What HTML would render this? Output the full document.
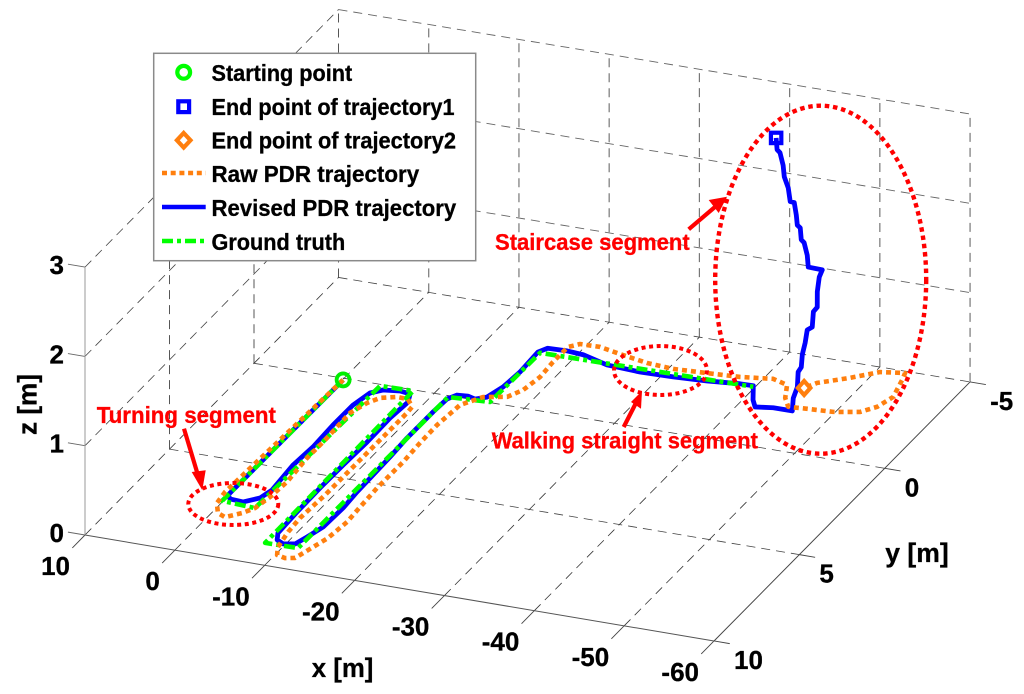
<!DOCTYPE html>
<html lang="en">
<head>
<meta charset="utf-8">
<title>PDR trajectory 3D chart</title>
<style>
html,body{margin:0;padding:0;background:#fff;}
svg{display:block;filter:blur(0.35px);}
text{font-family:"Liberation Sans",Arial,sans-serif;font-weight:bold;fill:#000;stroke:#000;stroke-width:0.3px;}
.tick{font-size:26px;}
.title{font-size:27px;}
.leg{font-size:23px;}
.note{font-size:23px;fill:#f00;stroke:#f00;}
</style>
</head>
<body>
<svg id="chart" xmlns="http://www.w3.org/2000/svg" width="1024" height="694" viewBox="0 0 1024 694">
  <rect x="0" y="0" width="1024" height="694" fill="#fff"/>
  <g id="grid"></g>
  <g id="axes"></g>
  <g id="ticklabels"></g>
  <g id="series"></g>

  <text class="title" x="311.7" y="677" textLength="61.7" lengthAdjust="spacingAndGlyphs">x [m]</text>
  <text class="title" x="885.3" y="562" textLength="63.4" lengthAdjust="spacingAndGlyphs">y [m]</text>
  <text class="title" transform="translate(36.5,435) rotate(-90)" x="0" y="0" textLength="61" lengthAdjust="spacingAndGlyphs">z [m]</text>

  <g fill="none" stroke="#f00">
    <ellipse cx="820.7" cy="279.7" rx="105.5" ry="174" stroke-width="4.4" stroke-dasharray="4.5 3.8"/>
    <ellipse cx="660.5" cy="370.5" rx="46.5" ry="24.5" stroke-width="4" stroke-dasharray="4 3.6"/>
    <ellipse cx="233.3" cy="504" rx="45" ry="21" stroke-width="4" stroke-dasharray="4 3.6"/>
    <line x1="688.7" y1="229.3" x2="722" y2="201" stroke-width="4.2"/>
    <polygon points="727,196.7 708.7,200 718.7,213" fill="#f00" stroke="none"/>
    <line x1="184" y1="428.7" x2="200" y2="482" stroke-width="4.2"/>
    <polygon points="202.3,490.3 191.7,472 205.7,470.3" fill="#f00" stroke="none"/>
    <line x1="623.7" y1="427" x2="638" y2="399" stroke-width="4.2"/>
    <polygon points="642,391 631,402 641,408.7" fill="#f00" stroke="none"/>
  </g>
  <text class="note" x="495" y="250" textLength="194.7" lengthAdjust="spacingAndGlyphs">Staircase segment</text>
  <text class="note" x="96.7" y="423" textLength="179.3" lengthAdjust="spacingAndGlyphs">Turning segment</text>
  <text class="note" x="491.7" y="448.7" textLength="266.3" lengthAdjust="spacingAndGlyphs">Walking straight segment</text>

  <g>
    <rect x="153.7" y="53.3" width="322" height="207.4" fill="#fff" stroke="#8a8a8a" stroke-width="1.5"/>
    <circle cx="183.7" cy="72.3" r="6.4" fill="none" stroke="#0f0" stroke-width="4.2"/>
    <text class="leg" x="211.5" y="81" textLength="140.7" lengthAdjust="spacingAndGlyphs">Starting point</text>
    <rect x="178.3" y="101.3" width="10.8" height="10.8" fill="none" stroke="#00f" stroke-width="4.2"/>
    <text class="leg" x="211.5" y="114.8" textLength="243" lengthAdjust="spacingAndGlyphs">End point of trajectory1</text>
    <polygon points="183.7,133 190.5,140.3 183.7,147.6 176.9,140.3" fill="none" stroke="#ff7f0e" stroke-width="4.2"/>
    <text class="leg" x="211.5" y="148.7" textLength="244.5" lengthAdjust="spacingAndGlyphs">End point of trajectory2</text>
    <line x1="162" y1="173" x2="205.7" y2="173" stroke="#ff7f0e" stroke-width="4.4" stroke-dasharray="5 3.7"/>
    <text class="leg" x="211.5" y="182" textLength="207.7" lengthAdjust="spacingAndGlyphs">Raw PDR trajectory</text>
    <line x1="162" y1="207" x2="205.7" y2="207" stroke="#00f" stroke-width="4.4"/>
    <text class="leg" x="211.5" y="216" textLength="244.7" lengthAdjust="spacingAndGlyphs">Revised PDR trajectory</text>
    <line x1="162" y1="241" x2="205.7" y2="241" stroke="#0f0" stroke-width="4.4" stroke-dasharray="11 4 4 4"/>
    <text class="leg" x="211.5" y="250" textLength="133.7" lengthAdjust="spacingAndGlyphs">Ground truth</text>
  </g>
</svg>
<script>
const xTicks = [10, 0, -10, -20, -30, -40, -50, -60];
const yTicks = [-5, 0, 5, 10];
const zTicks = [0, 1, 2, 3];

const groundX = [-0.06, 0.12, -3.69, -4.15, -7.76, -7.93, -11.56, -11.67, -16.14, -16.30, -39.80];
const groundY = [0.09, 7.14, 7.23, 0.08, 0.06, 8.88, 8.86, 0.07, -0.03, -2.90, -2.97];
const groundZ = [0, 0, 0, 0, 0, 0, 0, 0, 0, 0, 0];

const revisedX = [-0.06, 0.11, -0.45, -1.98, -3.23, -3.62, -3.28, -3.48, -3.33, -3.36, -3.85, -4.81, -6.52, -7.76, -8.33, -8.11, -8.18, -8.05, -8.01, -8.07, -8.23, -8.80, -9.75, -10.90, -11.38, -11.97, -12.09, -11.91, -11.85, -11.77, -11.61, -11.63, -11.64, -11.76, -12.34, -13.48, -14.43, -15.39, -15.97, -16.18, -16.01, -16.58, -18.69, -20.58, -23.81, -27.62, -31.24, -34.86, -38.28, -39.71, -41.02, -41.87, -43.68, -45.79,
  -45.86, -46.22, -46.29, -46.56, -46.64, -46.90, -47.07, -47.53, -47.62, -47.99, -47.96, -48.12, -48.40, -47.05, -46.94, -46.63, -46.33, -46.22, -45.93, -45.82, -45.61, -45.22, -45.00, -44.60, -44.49, -44.18, -43.88, -43.77];
const revisedY = [0.09, 6.79, 6.98, 7.02, 6.68, 6.19, 4.75, 3.69, 2.43, 1.27, 0.52, 0.26, 0.17, 0.23, 0.66, 1.60, 2.99, 4.33, 5.68, 7.08, 8.28, 8.63, 8.78, 8.68, 8.23, 7.60, 6.48, 5.57, 4.59, 3.55, 2.46, 1.70, 0.94, 0.18, -0.10, -0.14, -0.05, -0.25, -0.89, -1.77, -2.92, -3.19, -3.22, -3.16, -2.85, -2.77, -2.80, -2.88, -3.01, -3.02, -2.31, -1.98, -2.09, -2.09,
  -2.11, -2.16, -2.17, -2.21, -2.23, -2.26, -2.29, -2.34, -2.36, -2.39, -2.41, -2.44, -2.47, -2.36, -2.36, -2.34, -2.33, -2.33, -2.31, -2.31, -2.30, -2.27, -2.27, -2.25, -2.24, -2.22, -2.21, -2.21];
const revisedZ = [0, 0, 0, 0, 0, 0, 0, 0, 0, 0, 0, 0, 0, 0, 0, 0, 0, 0, 0, 0, 0, 0, 0, 0, 0, 0, 0, 0, 0, 0, 0, 0, 0, 0, 0, 0, 0, 0, 0, 0, 0, 0, 0, 0, 0, 0, 0, 0, 0, 0, 0, 0, 0, 0,
  0.14, 0.26, 0.43, 0.48, 0.62, 0.75, 0.89, 0.92, 1.09, 1.14, 1.31, 1.47, 1.55, 1.58, 1.71, 1.85, 1.88, 2.01, 2.04, 2.15, 2.29, 2.30, 2.45, 2.57, 2.70, 2.84, 2.87, 3.00];

const rawX = [-0.06, 0.68, 0.41, -0.63, -1.67, -2.92, -3.69, -4.09, -4.29, -3.95, -3.98, -3.89, -3.82, -4.51, -5.28, -6.81, -8.04, -9.17, -9.25, -9.24, -9.21, -9.18, -9.15, -8.92, -9.10, -9.55, -10.21, -11.25, -12.21, -12.59, -13.47, -13.78, -13.62, -13.45, -13.47, -13.49, -13.31, -13.25,
  -13.56, -15.01, -17.30, -18.17, -18.56, -18.38, -18.40, -19.27, -21.46, -24.31, -27.44, -30.48, -34.10, -37.62, -40.95, -42.85, -43.89, -45.02, -47.03, -49.78, -52.35, -53.50, -54.09, -53.34, -52.97, -50.49, -48.20, -45.52, -44.76];
const rawY = [0.09, 6.68, 7.30, 7.79, 7.93, 7.59, 7.23, 6.54, 5.66, 4.29, 3.24, 2.49, 1.68, 1.04, 0.68, 0.49, 0.51, 0.86, 1.21, 2.08, 3.19, 4.71, 5.98, 7.35, 8.14, 8.99, 9.38, 9.47, 9.38, 9.00, 8.11, 7.15, 6.29, 5.21, 4.33, 3.69, 2.60, 1.56,
  0.37, -0.22, -0.43, -0.91, -1.70, -2.55, -3.42, -3.67, -3.69, -3.48, -3.28, -3.20, -3.27, -3.35, -3.53, -3.34, -2.68, -2.26, -2.32, -2.38, -2.60, -3.00, -3.62, -4.54, -4.91, -4.75, -4.22, -3.69, -3.33];
const rawZ = [0, 0, 0, 0, 0, 0, 0, 0, 0, 0, 0, 0, 0, 0, 0, 0, 0, 0, 0, 0, 0, 0, 0, 0, 0, 0, 0, 0, 0, 0, 0, 0, 0, 0, 0, 0, 0, 0,
  0, 0, 0, 0, 0, 0, 0, 0, 0, 0, 0, 0, 0, 0, 0, 0, 0, 0, 0, 0, 0, 0, 0, 0, 0, 0, 0, 0, 0];

const xMax = 10;
const xMin = -60;
const yMin = -5;
const yMax = 10;
const zMax = 3;

function project(x, y, z) {
  const u = xMax - x;
  const v = yMax - y;
  return {
    sx: 85 + 8.986 * u + v * (16.9 + 0.00243 * u),
    sy: 535 + 1.514 * u - v * (17.17 + 0.00143 * u) - 89.3 * z
  };
}

const NS = 'http://www.w3.org/2000/svg';
const gridG = document.getElementById('grid');
const axesG = document.getElementById('axes');
const labelsG = document.getElementById('ticklabels');
const seriesG = document.getElementById('series');

function seg(parent, name, a, b, stroke, width, dash) {
  const el = document.createElementNS(NS, 'line');
  
  
  el.setAttribute('x1', a.sx.toFixed(2));
  el.setAttribute('y1', a.sy.toFixed(2));
  el.setAttribute('x2', b.sx.toFixed(2));
  el.setAttribute('y2', b.sy.toFixed(2));
  el.setAttribute('stroke', stroke);
  el.setAttribute('stroke-width', width);
  if (dash) el.setAttribute('stroke-dasharray', dash);
  parent.appendChild(el);
}

function tickText(name, str, x, y, anchor) {
  const el = document.createElementNS(NS, 'text');
  
  
  el.setAttribute('class', 'tick');
  el.setAttribute('x', x.toFixed(1));
  el.setAttribute('y', y.toFixed(1));
  el.setAttribute('text-anchor', anchor);
  el.textContent = str;
  labelsG.appendChild(el);
}

const DASH = '9 6';
xTicks.forEach(function (t) {
  if (t !== xMin) seg(gridG, 'floor-gridline-x' + t, project(t, yMax, 0), project(t, yMin, 0), '#333', 0.8, DASH);
  seg(gridG, 'wall-gridline-x' + t, project(t, yMin, 0), project(t, yMin, zMax), t === xMax ? '#444' : '#777', t === xMax ? 0.9 : 1.2, DASH);
  seg(axesG, 'x-tick-' + t, project(t, yMax, 0), project(t, yMax + 0.75, 0), '#444', 0.9);
  const p = project(t, yMax, 0);
  tickText('x-tick-label-' + t, String(t), p.sx - 15, p.sy + 40, 'end');
});
yTicks.forEach(function (t) {
  if (t !== yMax) seg(gridG, 'floor-gridline-y' + t, project(xMax, t, 0), project(xMin, t, 0), '#444', 0.8, DASH);
  if (t !== yMax && t !== yMin) seg(gridG, 'side-wall-gridline-y' + t, project(xMax, t, 0), project(xMax, t, zMax), '#444', 0.9, DASH);
  seg(axesG, 'y-tick-' + t, project(xMin, t, 0), project(xMin - 1.75, t, 0), '#444', 0.9);
  const p = project(xMin, t, 0);
  tickText('y-tick-label-' + t, String(t), p.sx + 20, p.sy + 28, 'start');
});
zTicks.forEach(function (t) {
  if (t !== 0) {
    seg(gridG, 'back-wall-gridline-z' + t, project(xMax, yMin, t), project(xMin, yMin, t), '#666', 0.9, DASH);
    seg(gridG, 'side-wall-gridline-z' + t, project(xMax, yMax, t), project(xMax, yMin, t), '#444', 0.8, DASH);
  }
  seg(axesG, 'z-tick-' + t, project(xMax, yMax, t), project(xMax + 1.9, yMax, t), '#666', 0.9);
  const p = project(xMax, yMax, t);
  tickText('z-tick-label-' + t, String(t), p.sx - 21, p.sy + 7, 'end');
});
seg(axesG, 'x-axis-line', project(xMax, yMax, 0), project(xMin, yMax, 0), '#555', 1);
seg(axesG, 'y-axis-line', project(xMin, yMax, 0), project(xMin, yMin, 0), '#444', 1);
seg(axesG, 'z-axis-line', project(xMax, yMax, 0), project(xMax, yMax, zMax), '#999', 1);

function drawSeries(name, xs, ys, zs, stroke, dash, width) {
  let d = '';
  xs.forEach(function (x, i) {
    const p = project(x, ys[i], zs[i]);
    d += (i ? 'L' : 'M') + p.sx.toFixed(2) + ' ' + p.sy.toFixed(2);
  });
  const el = document.createElementNS(NS, 'path');
  
  
  el.setAttribute('d', d);
  el.setAttribute('fill', 'none');
  el.setAttribute('stroke', stroke);
  el.setAttribute('stroke-width', width);
  el.setAttribute('stroke-linejoin', 'round');
  if (dash) el.setAttribute('stroke-dasharray', dash);
  seriesG.appendChild(el);
}

drawSeries('revised-pdr-trajectory', revisedX, revisedY, revisedZ, '#00f', null, 4.8);
drawSeries('ground-truth-trajectory', groundX, groundY, groundZ, '#0f0', '11 4 4 4', 4.6);
drawSeries('raw-pdr-trajectory', rawX, rawY, rawZ, '#ff7f0e', '5 4', 4.6);

const startP = project(groundX[0], groundY[0], groundZ[0]);
const startMark = document.createElementNS(NS, 'circle');


startMark.setAttribute('cx', startP.sx.toFixed(2));
startMark.setAttribute('cy', startP.sy.toFixed(2));
startMark.setAttribute('r', '6.5');
startMark.setAttribute('fill', 'none');
startMark.setAttribute('stroke', '#0e0');
startMark.setAttribute('stroke-width', '3.8');
seriesG.appendChild(startMark);

const last1 = revisedX.length - 1;
const endP1 = project(revisedX[last1], revisedY[last1], revisedZ[last1]);
const endMark1 = document.createElementNS(NS, 'rect');


endMark1.setAttribute('x', (endP1.sx - 5.2).toFixed(2));
endMark1.setAttribute('y', (endP1.sy - 5.2).toFixed(2));
endMark1.setAttribute('width', '10.4');
endMark1.setAttribute('height', '10.4');
endMark1.setAttribute('fill', 'none');
endMark1.setAttribute('stroke', '#00f');
endMark1.setAttribute('stroke-width', '4.2');
seriesG.appendChild(endMark1);

const last2 = rawX.length - 1;
const endP2 = project(rawX[last2], rawY[last2], rawZ[last2]);
const endMark2 = document.createElementNS(NS, 'polygon');


endMark2.setAttribute('points',
  endP2.sx.toFixed(2) + ',' + (endP2.sy - 7).toFixed(2) + ' ' +
  (endP2.sx + 6.2).toFixed(2) + ',' + endP2.sy.toFixed(2) + ' ' +
  endP2.sx.toFixed(2) + ',' + (endP2.sy + 7).toFixed(2) + ' ' +
  (endP2.sx - 6.2).toFixed(2) + ',' + endP2.sy.toFixed(2));
endMark2.setAttribute('fill', '#fff');
endMark2.setAttribute('stroke', '#ff7f0e');
endMark2.setAttribute('stroke-width', '4.2');
seriesG.appendChild(endMark2);
</script>
</body>
</html>
